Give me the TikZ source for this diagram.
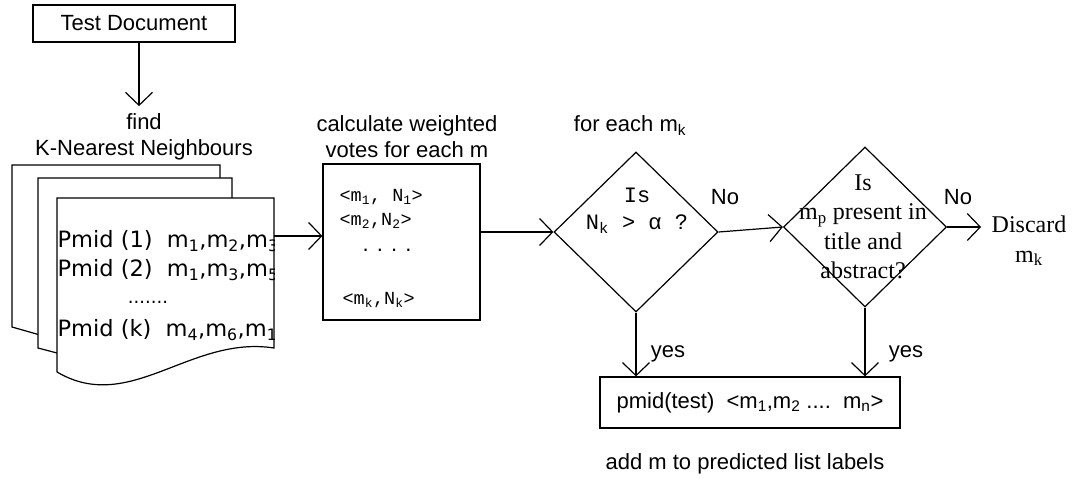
\documentclass[tikz,border=0pt]{standalone}
\usepackage{fontspec}
\setmainfont{Liberation Sans}
\newfontfamily\dvsfont{DejaVu Sans}
\newfontfamily\monofont{Liberation Mono}
\newfontfamily\seriffont{Liberation Serif}
\usetikzlibrary{arrows.meta,shapes.geometric,positioning}

\begin{document}
\begin{tikzpicture}[x=1pt, y=-1pt,
    line width=1.2pt,
    arr/.style={-{Straight Barb[length=13pt,width=27pt]}},
    box/.style={draw, rectangle, inner sep=0pt},
    dec/.style={draw, diamond, inner sep=0pt},
    txt/.style={inner sep=0pt, font=\fontsize{22}{26}\selectfont},
    pm/.style={inner sep=0pt, anchor=west, font=\dvsfont\fontsize{22.5}{27}\selectfont},
    vote/.style={inner sep=0pt, anchor=west, font=\monofont\fontsize{18.5}{22}\selectfont},
    qmono/.style={inner sep=0pt, align=center, font=\monofont\fontsize{22}{27}\selectfont},
    qserif/.style={inner sep=0pt, align=center, font=\seriffont\fontsize{24}{29.5}\selectfont}
]
    \useasboundingbox (0,0) rectangle (1079,479);

    % input
    \node[box, txt, minimum width=202pt, minimum height=37pt] (td) at (134,23.5) {Test Document};
    \node[txt, align=center] (knn) at (144,137) {find\\K-Nearest Neighbours};

    % stack of neighbour documents
    \filldraw[fill=white] (12,165) -- (220,165) -- (220,300) -- (40,335) -- (12,327) -- cycle;
    \filldraw[fill=white] (38,178) -- (232,178) -- (232,320) -- (57,353) -- (38,348) -- cycle;
    \filldraw[fill=white] (57,372) -- (57,198) -- (274,198) -- (274,348)
        .. controls (190,335) and (130,415) .. (57,372);
    \begin{scope}
        \clip (57,198) rectangle (274,400);
        \node[pm] (p1) at (57,241) {Pmid (1)\ \ m\textsubscript{1},m\textsubscript{2},m\textsubscript{3}};
        \node[pm] (p2) at (57,270) {Pmid (2)\ \ m\textsubscript{1},m\textsubscript{3},m\textsubscript{5}};
        \node[inner sep=0pt, font=\dvsfont\fontsize{18}{22}\selectfont] (pdots) at (148,302) {.......};
        \node[pm] (pk) at (57,330) {Pmid (k)\ \ m\textsubscript{4},m\textsubscript{6},m\textsubscript{1}};
    \end{scope}
    \coordinate (docout) at (274,236);

    % weighted votes
    \node[txt, align=center] (calcttl) at (407,137) {calculate weighted\\votes for each m};
    \node[box, minimum width=157pt, minimum height=156pt] (calc) at (401.5,242) {};
    \node[vote] (v1) at (339,197) {<m\textsubscript{1}, N\textsubscript{1}>};
    \node[vote] (v2) at (339,221) {<m\textsubscript{2},N\textsubscript{2}>};
    \node[txt] (vdots) at (387,250) {. . . .};
    \node[vote] (vk) at (342,300) {<m\textsubscript{k},N\textsubscript{k}>};

    % decisions
    \node[txt] (each) at (630,126) {for each m\textsubscript{k}};
    \node[dec, minimum width=164pt, minimum height=160pt] (d1) at (636,232) {};
    \node[qmono] (q1) at (637,211) {Is\\N\textsubscript{k} > α ?};
    \node[txt] (no1) at (725,197) {No};

    \node[dec, minimum width=163pt, minimum height=160pt] (d2) at (865,227) {};
    \node[qserif] (q2) at (863,227) {Is\\m\textsubscript{p} present in\\title and\\abstract?};
    \node[txt] (no2) at (958,197) {No};
    \node[qserif] (disc) at (1029,241) {Discard\\m\textsubscript{k}};

    % output
    \node[txt] (yes1) at (668,354) {yes};
    \node[txt] (yes2) at (906,354) {yes};
    \node[box, txt, minimum width=300pt, minimum height=51pt] (out) at (750,402.5)
        {pmid(test)\ \ <m\textsubscript{1},m\textsubscript{2} ....\ \ m\textsubscript{n}>};
    \node[txt] (add) at (745,464) {add m to predicted list labels};

    % connectors
    \draw[arr, shorten >=7pt] ([xshift=5pt]td.south) -- ([xshift=5pt]td.south |- knn.north);
    \draw[arr] (docout) -- (docout -| calc.west);
    \draw[arr] (calc.east |- d1.west) -- (d1.west);
    \draw[arr] (d1.east) -- (d2.west);
    \draw[arr, shorten >=10pt] (d2.east) -- (d2.east -| disc.west);
    \draw[arr] (d1.south) -- (d1.south |- out.north);
    \draw[arr] (d2.south) -- (d2.south |- out.north);
\end{tikzpicture}
\end{document}
